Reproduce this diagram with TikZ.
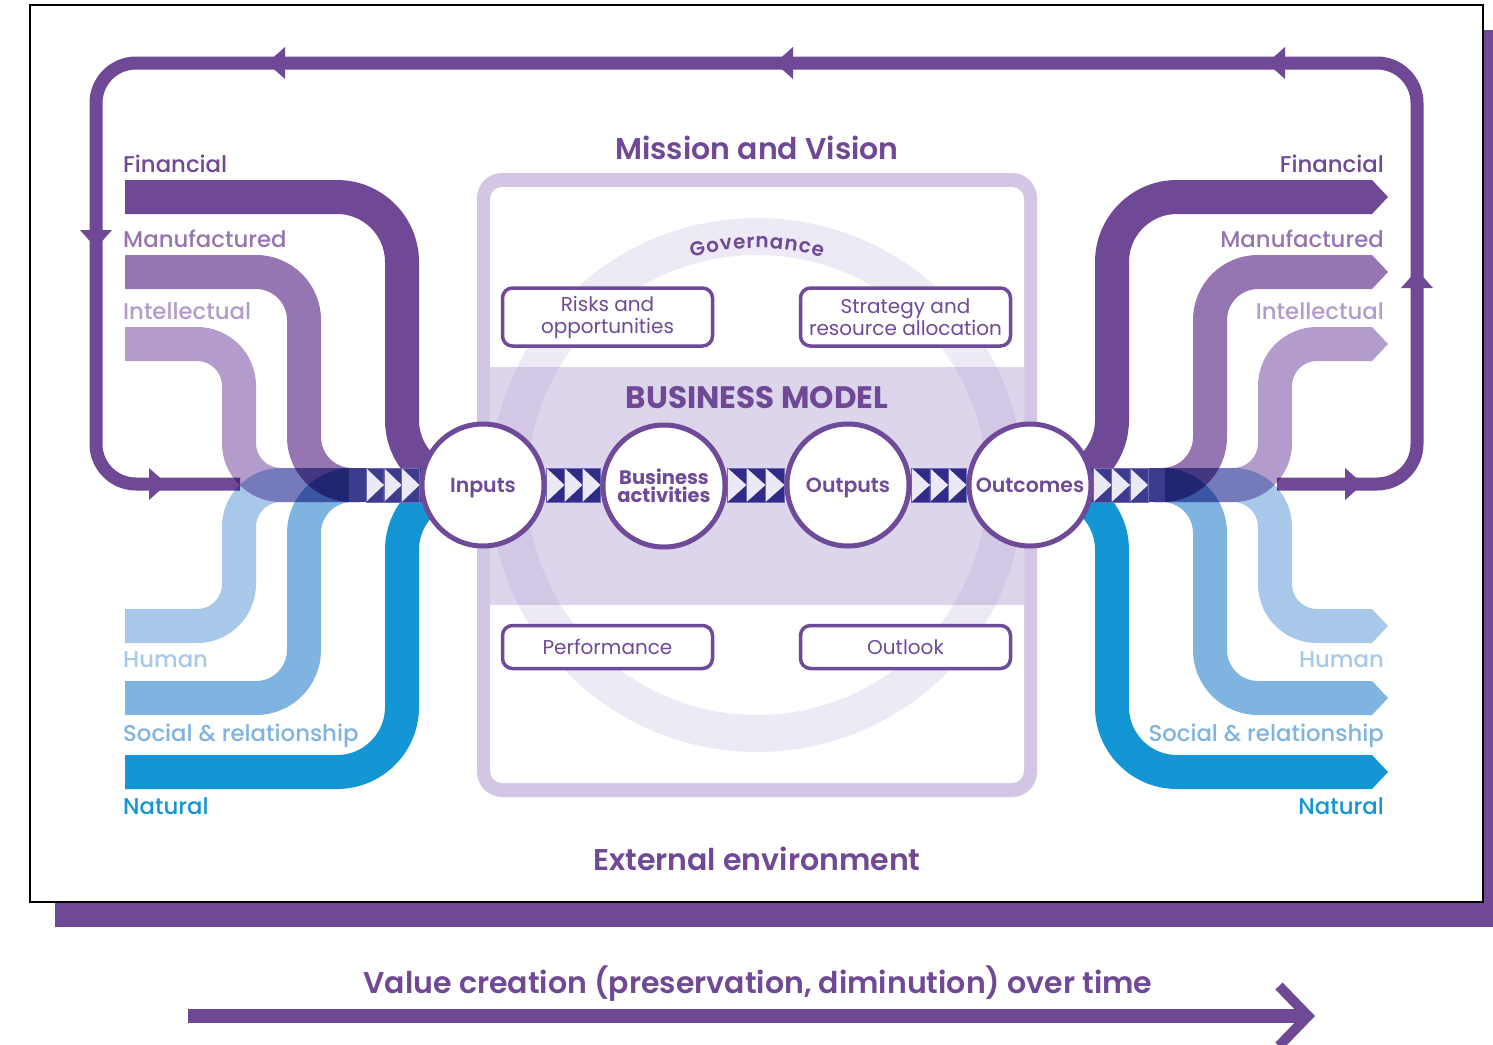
\documentclass[tikz,border=0pt]{standalone}
\usepackage{fontspec}
\usepackage{graphicx}
\setmainfont{Poppins}
\newfontfamily\pmed{Poppins Medium}
\newfontfamily\psemi{Poppins SemiBold}
\usetikzlibrary{calc,decorations.text}
\definecolor{cpur}{HTML}{6F4896}
\definecolor{cman}{HTML}{9675B3}
\definecolor{cint}{HTML}{B39CCB}
\definecolor{chum}{HTML}{A8C8EA}
\definecolor{csoc}{HTML}{7FB3E0}
\definecolor{cnat}{HTML}{1396D3}
\definecolor{cbord}{HTML}{D3C5E4}
\definecolor{cmid}{HTML}{DDD5EB}
\definecolor{cring}{RGB}{170,150,205}
\definecolor{cstrip}{HTML}{3C3B8D}
\definecolor{cstripc}{HTML}{2F2B87}
\definecolor{cchev}{HTML}{ECE9F6}
\definecolor{ccirc}{HTML}{6E4A98}
\definecolor{cline}{HTML}{6F6DB2}
\newcommand\fsz[1]{\fontsize{#1pt}{#1pt}\selectfont}
\pgfdeclarelayer{l0}
\pgfdeclarelayer{l1}
\pgfdeclarelayer{l2}
\pgfsetlayers{l0,l1,l2,main}
\newcommand\chevrow[3]{%
  \fill[#3] let \p1=#1, \p2=#2 in (\x1,\y1-17pt) rectangle (\x2,\y1+17pt);
  \fill[cchev] let \p1=#1, \p2=#2, \n1={(\x2-\x1)/3} in
    (\x1,\y1+17pt) -- (\x1,\y1-17pt) -- ({\x1+\n1},\y1) -- cycle
    ({\x1+\n1},\y1+17pt) -- ({\x1+\n1},\y1-17pt) -- ({\x1+2*\n1},\y1) -- cycle
    ({\x1+2*\n1},\y1+17pt) -- ({\x1+2*\n1},\y1-17pt) -- (\x2,\y1) -- cycle;
  \draw[cellline] let \p1=#1, \p2=#2, \n1={(\x2-\x1)/3} in
    (\x1,\y1-17pt) rectangle ({\x1+\n1},\y1+17pt)
    ({\x1+\n1},\y1-17pt) rectangle ({\x1+2*\n1},\y1+17pt)
    ({\x1+2*\n1},\y1-17pt) rectangle (\x2,\y1+17pt);
}
\begin{document}
\begin{tikzpicture}[x=1pt,y=-1pt,
  band/.style={line width=34pt, blend mode=multiply},
  loopline/.style={draw=cpur, line width=13pt, rounded corners=40pt},
  smallbox/.style={draw=ccirc, line width=3.5pt, fill=white, rounded corners=10pt,
    minimum width=210pt, inner sep=0pt, align=center, text=ccirc,
    font=\fontsize{20pt}{22pt}\selectfont},
  flowcircle/.style={circle, draw=ccirc, line width=5pt, fill=white, minimum size=122pt,
    inner sep=0pt, text=ccirc, font=\psemi\fsz{20.5}, align=center},
  onelinetext/.style={text height=15pt, text depth=0pt},
  lab/.style={inner sep=0pt, font=\pmed\fsz{22.8}},
  title/.style={inner sep=0pt, text=cpur, font=\psemi\fsz{30}},
  cellline/.style={draw=cline, line width=0.6pt},
  arrowhd/.style={fill=cpur}
]
\useasboundingbox (0,0) rectangle (1493,1044);

% ---------- circles (main layer) ----------
\node[flowcircle, onelinetext] (inputs) at (483,485) {Inputs};
\node[flowcircle, font=\bfseries\fontsize{19.5pt}{18.5pt}\selectfont] (business) at (664,486) {Business\\activities};
\node[flowcircle, onelinetext] (outputs) at (848,485) {Outputs};
\node[flowcircle, onelinetext] (outcomes) at (1030,485) {Outcomes};

\begin{pgfonlayer}{l0}
  % frame with shadow
  \fill[cpur] (55,30) rectangle (1493,927);
  \filldraw[fill=white, draw=black, line width=2.5pt] (30,5) rectangle (1483,902);
  % feedback loop
  \coordinate (loopL) at (240,484);
  \coordinate (loopR) at (1277,484);
  \draw[loopline] (loopR) -- (1417,484) -- (1417,63) -- (96,63) -- (96,484) -- (loopL);
  \fill[arrowhd] (267,63) -- (285,47) -- (285,79) -- cycle;
  \fill[arrowhd] (775,63) -- (793,47) -- (793,79) -- cycle;
  \fill[arrowhd] (1267,63) -- (1285,47) -- (1285,79) -- cycle;
  \fill[arrowhd] (96,248) -- (80,230) -- (112,230) -- cycle;
  \fill[arrowhd] (167,484) -- (149,468) -- (149,500) -- cycle;
  \fill[arrowhd] (1363,484) -- (1345,468) -- (1345,500) -- cycle;
  \fill[arrowhd] (1417,270) -- (1401,288) -- (1433,288) -- cycle;
  % business model box
  \fill[cbord, rounded corners=25pt] (477,173) rectangle (1037,797);
  \fill[white, rounded corners=12pt] (490,187) rectangle (1024,783);
  \fill[cmid] (490,367) rectangle (1024,605);
  \begin{scope}
    \clip[rounded corners=12pt] (490,187) rectangle (1024,783);
    \fill[cring, opacity=0.2, even odd rule] (757,485) circle[radius=267] (757,485) circle[radius=230];
  \end{scope}
  \path[decorate, decoration={text effects along path, text={Governance},
      text effects/.cd, text along path, fit text to path,
      characters={text=cpur, font=\psemi\fsz{20}, inner sep=0pt}}]
    (757,485) ++(254:237) arc[start angle=254, end angle=286, radius=237];
\end{pgfonlayer}

\begin{pgfonlayer}{l1}
  % left capitals
  \draw[band, draw=cint, rounded corners=42pt] (125,344) -- (239,344) -- (239,485) -- (360,485);
  \draw[band, draw=chum, rounded corners=42pt] (125,626) -- (239,626) -- (239,485) -- (360,485);
  \draw[band, draw=cman, rounded corners=48pt] (125,272) -- (304,272) -- (304,485) -- (360,485);
  \draw[band, draw=csoc, rounded corners=48pt] (125,698) -- (304,698) -- (304,485) -- (360,485);
  \draw[band, draw=cpur, rounded corners=65pt] (125,197) -- (402,197) -- (402,485) -- (480,485);
  \draw[band, draw=cnat, rounded corners=65pt] (125,772) -- (402,772) -- (402,485) -- (480,485);
  % right capitals
  \draw[band, draw=cint, rounded corners=42pt] (1154,485) -- (1275,485) -- (1275,344) -- (1372,344);
  \draw[band, draw=chum, rounded corners=42pt] (1154,485) -- (1275,485) -- (1275,626) -- (1372,626);
  \draw[band, draw=cman, rounded corners=48pt] (1154,485) -- (1210,485) -- (1210,272) -- (1372,272);
  \draw[band, draw=csoc, rounded corners=48pt] (1154,485) -- (1210,485) -- (1210,698) -- (1372,698);
  \draw[band, draw=cpur, rounded corners=65pt] (1034,485) -- (1112,485) -- (1112,197) -- (1372,197);
  \draw[band, draw=cnat, rounded corners=65pt] (1034,485) -- (1112,485) -- (1112,772) -- (1372,772);
  \fill[cpur] (1371,180) -- (1372,180) -- (1388,197) -- (1372,214) -- (1371,214) -- cycle;
  \fill[cman] (1371,255) -- (1372,255) -- (1388,272) -- (1372,289) -- (1371,289) -- cycle;
  \fill[cint] (1371,327) -- (1372,327) -- (1388,344) -- (1372,361) -- (1371,361) -- cycle;
  \fill[chum] (1371,609) -- (1372,609) -- (1388,626) -- (1372,643) -- (1371,643) -- cycle;
  \fill[csoc] (1371,681) -- (1372,681) -- (1388,698) -- (1372,715) -- (1371,715) -- cycle;
  \fill[cnat] (1371,755) -- (1372,755) -- (1388,772) -- (1372,789) -- (1371,789) -- cycle;
\end{pgfonlayer}

\begin{pgfonlayer}{l2}
  \fill[cstrip] (349,468) rectangle (430,502);
  \fill[cstrip] (1084,468) rectangle (1165,502);
  \chevrow{(366,485)}{(inputs.west)}{cstrip}
  \chevrow{(inputs.east)}{(business.west |- inputs.east)}{cstripc}
  \chevrow{(business.east |- inputs.east)}{(outputs.west)}{cstripc}
  \chevrow{(outputs.east)}{(outcomes.west)}{cstripc}
  \chevrow{(outcomes.east)}{(1148,485)}{cstrip}
\end{pgfonlayer}

% ---------- boxes ----------
\node[smallbox, minimum height=58pt] (risks) at (607.5,317) {Risks and\\opportunities};
\node[smallbox, minimum height=58pt] (strat) at (905.5,317) {Strategy and\\resource allocation};
\node[smallbox, minimum height=43pt] (perf) at (607.5,647) {Performance};
\node[smallbox, minimum height=43pt] (outl) at (905.5,647) {Outlook};

% ---------- labels ----------
\node[lab, text=cpur, anchor=base west] (lfin) at (123,172) {Financial};
\node[lab, text=cman, anchor=base west] (lman) at (123,247) {Manufactured};
\node[lab, text=cint, anchor=base west] (lint) at (123,319) {Intellectual};
\node[lab, text=chum, anchor=base west] (lhum) at (123,667) {Human};
\node[lab, text=csoc, anchor=base west] (lsoc) at (123,741) {Social \& relationship};
\node[lab, text=cnat, anchor=base west] (lnat) at (123,814) {Natural};
\node[lab, text=cpur, anchor=base east] (rfin) at (1384,172) {Financial};
\node[lab, text=cman, anchor=base east] (rman) at (1384,247) {Manufactured};
\node[lab, text=cint, anchor=base east] (rint) at (1384,319) {Intellectual};
\node[lab, text=chum, anchor=base east] (rhum) at (1384,667) {Human};
\node[lab, text=csoc, anchor=base east] (rsoc) at (1384,741) {Social \& relationship};
\node[lab, text=cnat, anchor=base east] (rnat) at (1384,814) {Natural};

% ---------- titles ----------
\node[title, anchor=base] (mission) at (757,159) {Mission and Vision};
\node[inner sep=0pt, anchor=base, text=cpur, font=\bfseries\fsz{31}] (bm) at (757,408) {BUSINESS MODEL};
\node[title, anchor=base] (ext) at (757,870) {External environment};
\node[title, anchor=base] (value) at (758,993) {Value creation (preservation, diminution) over time};

% ---------- time arrow ----------
\coordinate (tstart) at (188,1016);
\coordinate (tend) at (1306,1016);
\fill[cpur] ($(tstart)+(0,-7)$) rectangle ($(tend)+(0,7)$);
\draw[cpur, line width=10pt] (1279,986) -- (1308,1016) -- (1279,1046);
\end{tikzpicture}
\end{document}
